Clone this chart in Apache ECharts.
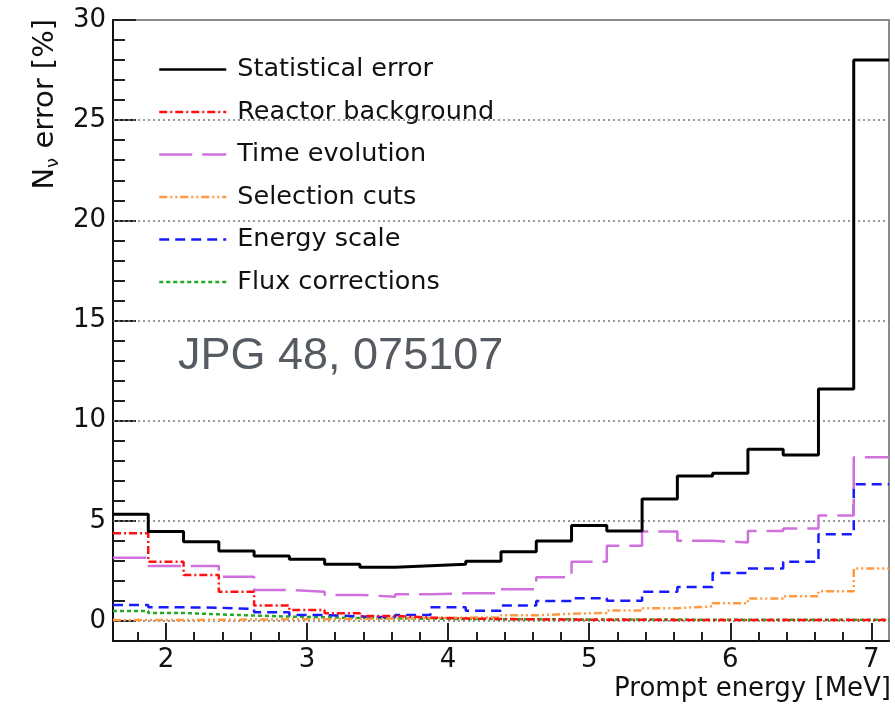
<!DOCTYPE html>
<html>
<head>
<meta charset="utf-8">
<script src="https://cdn.jsdelivr.net/npm/echarts@6/dist/echarts.min.js"></script>
<style>html,body{margin:0;padding:0;background:#fff}#c{width:895px;height:707px}</style>
</head>
<body>
<div id="c"></div>
<script>
// ---- data ----
const binCenters = [1.75, 2.0, 2.25, 2.5, 2.75, 3.0, 3.25, 3.5, 3.75, 4.0, 4.25, 4.5, 4.75, 5.0, 5.25, 5.5, 5.75, 6.0, 6.25, 6.5, 6.75, 7.0];
const binWidth = 0.25;
const statErr     = [5.33, 4.46, 3.96, 3.49, 3.24, 3.08, 2.83, 2.68, 2.76, 2.83, 2.98, 3.46, 3.99, 4.76, 4.49, 6.09, 7.24, 7.37, 8.57, 8.29, 11.58, 28.0];
const reactorBg   = [4.38, 2.96, 2.30, 1.46, 0.77, 0.55, 0.38, 0.25, 0.17, 0.12, 0.10, 0.08, 0.07, 0.06, 0.06, 0.05, 0.05, 0.05, 0.05, 0.05, 0.05, 0.05];
const timeEvo     = [3.16, 2.75, 2.75, 2.21, 1.55, 1.46, 1.30, 1.21, 1.33, 1.38, 1.38, 1.58, 2.18, 2.95, 3.76, 4.46, 4.00, 3.92, 4.49, 4.61, 5.26, 8.17];
const selCuts     = [0.05, 0.05, 0.06, 0.07, 0.08, 0.09, 0.10, 0.12, 0.14, 0.16, 0.18, 0.28, 0.36, 0.40, 0.52, 0.64, 0.73, 0.88, 1.12, 1.23, 1.48, 2.62];
const energyScale = [0.80, 0.68, 0.66, 0.60, 0.43, 0.30, 0.22, 0.18, 0.30, 0.68, 0.51, 0.77, 1.00, 1.13, 1.01, 1.46, 1.69, 2.40, 2.62, 2.96, 4.33, 6.83];
const fluxCorr    = [0.50, 0.40, 0.33, 0.27, 0.22, 0.18, 0.15, 0.13, 0.11, 0.10, 0.09, 0.08, 0.08, 0.07, 0.07, 0.07, 0.06, 0.06, 0.06, 0.06, 0.06, 0.06];
const seriesNames = ['Statistical error', 'Reactor background', 'Time evolution', 'Selection cuts', 'Energy scale', 'Flux corrections'];
const xMajorTicks = [2, 3, 4, 5, 6, 7];
const yMajorTicks = [0, 5, 10, 15, 20, 25, 30];
const gridLevels  = [0, 5, 10, 15, 20, 25];
const xRange = [1.625, 7.125];
const yRange = [-1, 30];
const annotation = 'JPG 48, 075107';

// ---- build ----
function stepData(vals) {
  const d = binCenters.map((c, i) => [c - binWidth / 2, vals[i]]);
  d.push([binCenters[binCenters.length - 1] + binWidth / 2, vals[vals.length - 1]]);
  return d;
}
const xMinorTicks = [];
for (let k = 9; k <= 35; k++) { const v = k / 5; if (!xMajorTicks.includes(v)) xMinorTicks.push(v); }
const yMinorTicks = [];
for (let v = 1; v < 30; v++) if (v % 5) yMinorTicks.push(v);

const FONT = 'DejaVu Sans';
const tickStyle = { color: '#222', width: 2 };
const styles = [
  { color: '#000000', width: 3, type: 'solid' },
  { color: '#ff1010', width: 2.5, type: [8, 3, 2, 3] },
  { color: '#d070dc', width: 2.5, type: [33, 10] },
  { color: '#ff9a40', width: 2.5, type: [8, 3, 2, 3, 2, 3] },
  { color: '#1a1aff', width: 2.5, type: [10, 6] },
  { color: '#22aa22', width: 2.5, type: [4, 3] }
];
const values = [statErr, reactorBg, timeEvo, selCuts, energyScale, fluxCorr];

const series = values.map((v, i) => ({
  name: seriesNames[i], type: 'line', step: 'end', symbol: 'none',
  data: stepData(v), lineStyle: styles[i], itemStyle: { color: styles[i].color },
  z: 10 - i, animation: false
}));
series.push({
  name: 'grid', type: 'line', data: [], z: 1, animation: false,
  markLine: {
    silent: true, symbol: 'none', animation: false, label: { show: false },
    lineStyle: { color: '#777', width: 1.5, type: [2, 3] },
    data: gridLevels.map(g => ({ yAxis: g }))
  }
});

const chart = echarts.init(document.getElementById('c'), null, { renderer: 'canvas' });
chart.setOption({
  animation: false,
  backgroundColor: '#fff',
  grid: { left: 113, right: 6, top: 20, bottom: 66, show: true, borderColor: '#8c8c8c', borderWidth: 2, backgroundColor: 'transparent' },
  xAxis: [
    { type: 'value', min: xRange[0], max: xRange[1], position: 'bottom',
      axisLine: { onZero: false, lineStyle: { color: '#111', width: 2 } },
      axisTick: { inside: true, length: 18, customValues: xMajorTicks, lineStyle: tickStyle },
      axisLabel: { customValues: xMajorTicks, margin: 6, fontSize: 26, fontFamily: FONT, color: '#111' },
      splitLine: { show: false } },
    { type: 'value', min: xRange[0], max: xRange[1], position: 'bottom',
      axisLine: { show: false, onZero: false },
      axisTick: { inside: true, length: 9, customValues: xMinorTicks, lineStyle: tickStyle },
      axisLabel: { show: false }, splitLine: { show: false } }
  ],
  yAxis: [
    { type: 'value', min: yRange[0], max: yRange[1], position: 'left',
      axisLine: { onZero: false, lineStyle: { color: '#111', width: 2 } },
      axisTick: { inside: true, length: 23, customValues: yMajorTicks, lineStyle: tickStyle },
      axisLabel: { customValues: yMajorTicks, margin: 7, fontSize: 26, fontFamily: FONT, color: '#111' },
      splitLine: { show: false } },
    { type: 'value', min: yRange[0], max: yRange[1], position: 'left',
      axisLine: { show: false, onZero: false },
      axisTick: { inside: true, length: 12, customValues: yMinorTicks, lineStyle: tickStyle },
      axisLabel: { show: false }, splitLine: { show: false } }
  ],
  legend: {
    orient: 'vertical', left: 140, top: 32, padding: [24, 17, 8, 18],
    backgroundColor: '#fff', itemWidth: 67, itemHeight: 14, itemGap: 15.5,
    selectedMode: false, data: seriesNames,
    itemStyle: { opacity: 0, borderWidth: 0 },
    lineStyle: { width: 2.5 },
    textStyle: { fontSize: 25.5, fontFamily: FONT, color: '#111', padding: [0, 0, 0, 6], lineHeight: 27 }
  },
  graphic: [
    { type: 'text', x: 178, y: 357, z: 100,
      style: { text: annotation, fontSize: 45, fontFamily: 'Liberation Sans', fill: '#565b62', align: 'left', verticalAlign: 'middle' } },
    { type: 'text', x: 45, y: 19, rotation: Math.PI / 2, z: 100,
      style: { text: 'N{s|ν} error [%]', fontSize: 29, fontFamily: FONT, fill: '#111', align: 'right', verticalAlign: 'middle', lineHeight: 34,
        rich: { s: { fontSize: 18, fontFamily: FONT, fill: '#111', verticalAlign: 'bottom', lineHeight: 34 } } } },
    { type: 'text', x: 891, y: 689, z: 100,
      style: { text: 'Prompt energy [MeV]', fontSize: 26, fontFamily: FONT, fill: '#111', align: 'right', verticalAlign: 'middle' } }
  ],
  series: series
});
</script>
</body>
</html>
